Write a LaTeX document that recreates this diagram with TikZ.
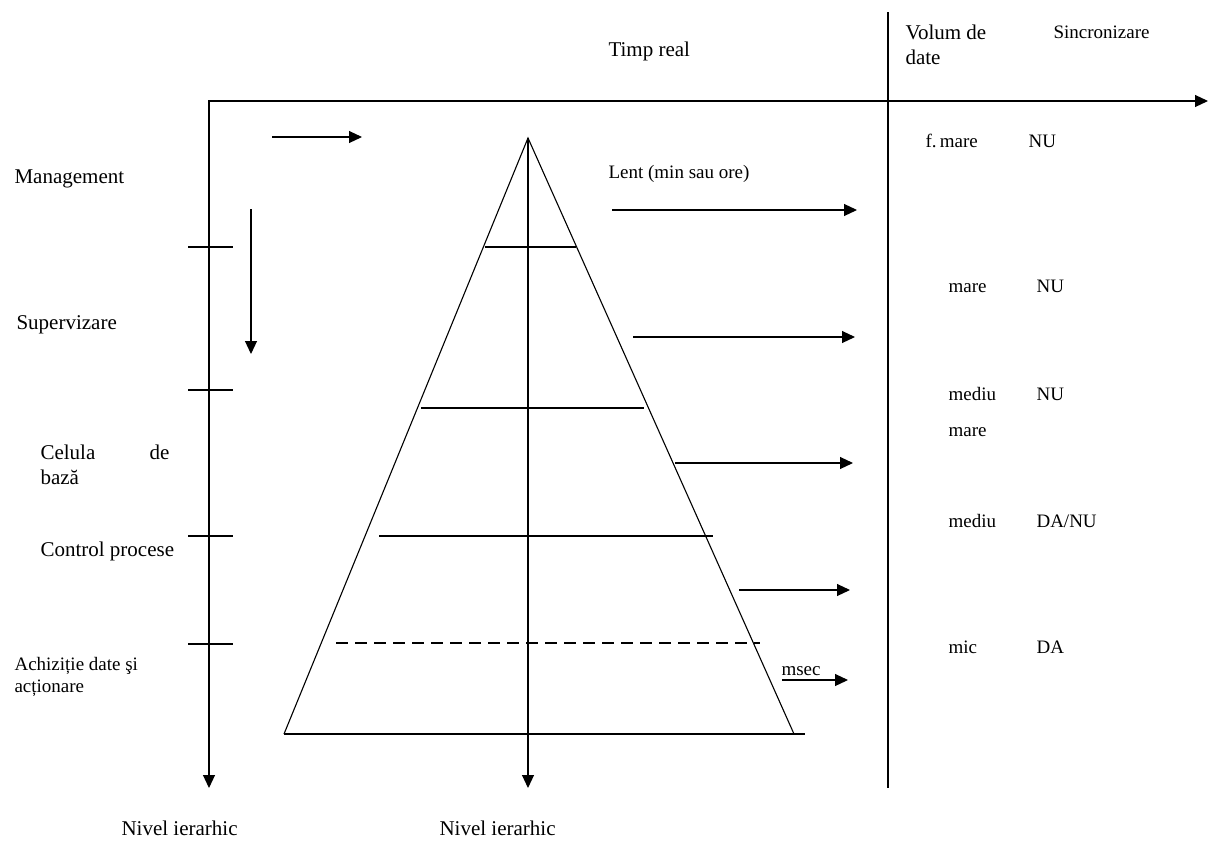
\documentclass[tikz,border=0pt]{standalone}
\usepackage{fontspec}
\setmainfont{Liberation Serif}
\usetikzlibrary{arrows.meta,positioning}

\begin{document}
\begin{tikzpicture}[x=1pt,y=-1pt,line width=1.1pt,
		tip/.style={-{Triangle[length=13pt,width=12pt]}},
		lbl/.style={anchor=base west,inner sep=0pt,font=\fontsize{21}{25}\selectfont},
		sml/.style={anchor=base west,inner sep=0pt,font=\fontsize{19}{23}\selectfont}]
			\useasboundingbox (0,0) rectangle (1216,841);
			% axe
			\coordinate (orig) at (209,101);
			\coordinate (xend) at (1208,101);
			\coordinate (yend) at (209,788);
			\draw[{Triangle[length=13pt,width=12pt]}-{Triangle[length=13pt,width=12pt]}] (xend) -- (orig) -- (yend);
			\draw (888,12) coordinate (vtop) -- (888,788) coordinate (vbot);
			\foreach \y in {247,390,536,644}
				\draw (188,\y) -- (233,\y);
			\coordinate (hs) at (272,137);
			\coordinate (he) at (362,137);
			\draw[tip] (hs) -- (he);
			\coordinate (ds) at (251,209);
			\coordinate (de) at (251,354);
			\draw[tip] (ds) -- (de);
			% piramida
			\coordinate (apex) at (528,138);
			\coordinate (bl) at (284,734);
			\coordinate (br) at (794,734);
			\coordinate (bend) at (528,788);
			\draw (bl) -- (apex) -- (br);
			\draw (bl) -- (805,734);
			\draw[tip] (apex) -- (bend);
			\draw (485,247) -- (576,247);
			\draw (421,408) -- (644,408);
			\draw (379,536) -- (713,536);
			\draw[dash pattern=on 12pt off 7pt] (336,643) -- (760,643);
			\foreach \a/\b/\y [count=\i] in {612/857/210,633/855/337,675/853/463,739/850/590,782/848/680} {
				\coordinate (s\i) at (\a,\y);
				\coordinate (e\i) at (\b,\y);
				\draw[tip] (s\i) -- (e\i);
			}
			% texte
			\node[lbl] (timp) at (608,56) {Timp real};
			\node[lbl] (vol) at (905,39) {Volum de};
			\node[lbl] (vol2) at (905,64) {date};
			\node[sml] (sinc) at (1053,38) {Sincronizare};
			\node[sml] (lent) at (608,178) {Lent (min sau ore)};
			\node[sml] (msec) at (781,675) {msec};
			\node[lbl] (mgmt) at (14,183) {Management};
			\node[lbl] (sup) at (16,329) {Supervizare};
			\node[lbl,anchor=base west] (cel) at (40,459) {\makebox[129pt][s]{Celula\hfill de}};
			\node[lbl] (cel2) at (40,484) {bază};
			\node[lbl] (ctrl) at (40,556) {Control procese};
			\node[sml] (ach) at (14,670) {Achiziție date şi};
			\node[sml] (ach2) at (14,692) {acționare};
			\node[lbl] (niv1) at (121,835) {Nivel ierarhic};
			\node[lbl] (niv2) at (439,835) {Nivel ierarhic};
			\foreach \x/\v/\u/\s/\y [count=\i] in {925/f.\,mare/1028/NU/147,948/mare/1036/NU/292,948/mediu/1036/NU/400,948/mare/1036//436,948/mediu/1036/DA\slash NU/527,948/mic/1036/DA/653} {
				\node[sml] (v\i) at (\x,\y) {\v};
				\node[sml] (s\i) at (\u,\y) {\s};
			}
		\end{tikzpicture}
\end{document}
